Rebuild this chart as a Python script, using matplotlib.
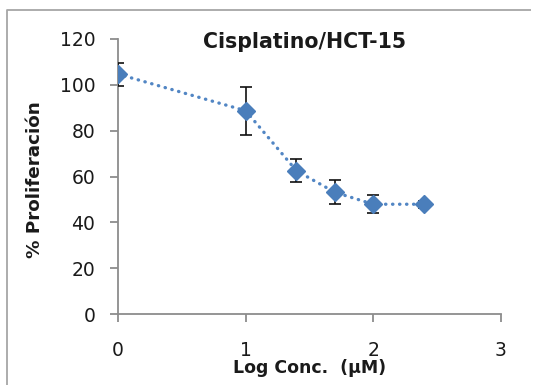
import matplotlib
matplotlib.use("Agg")
import matplotlib.pyplot as plt
from matplotlib.lines import Line2D

log_conc = [0.0, 1.0, 1.398, 1.699, 2.0, 2.398]
proliferation = [104.7, 88.7, 62.5, 53.1, 47.9, 47.9]
error = [5.0, 10.5, 5.0, 5.2, 4.0, 1.5]
x_ticks = [0, 1, 2, 3]
y_ticks = [0, 20, 40, 60, 80, 100, 120]

plt.rcParams['font.family'] = ['DejaVu Sans']

fig = plt.figure(figsize=(5.34, 3.85), dpi=100)
ax_bottom, ax_top, ax_left, ax_right = 314, 39, 118, 501
ax = fig.add_axes([ax_left/534, 1-ax_bottom/385, (ax_right-ax_left)/534, (ax_bottom-ax_top)/385])
H = ax_bottom - ax_top
W = ax_right - ax_left

blue = '#4A7EBB'
ax.plot(log_conc, proliferation, color='#5286C4', lw=2.4, linestyle=(0, (0.1, 2.0)),
        dash_capstyle='round', zorder=2)
ax.errorbar(log_conc, proliferation, yerr=error, fmt='none', ecolor='#111111',
            elinewidth=1.2, capsize=4.5, capthick=1.2, zorder=3)
ax.plot(log_conc, proliferation, linestyle='none', marker='D', markersize=9,
        color=blue, markeredgecolor=blue, zorder=4)

ax.set_xlim(0, 3)
ax.set_ylim(0, 120)
ax.set_xticks(x_ticks)
ax.set_yticks(y_ticks)
for s in ['top', 'right']:
    ax.spines[s].set_visible(False)
for s in ['left', 'bottom']:
    ax.spines[s].set_color('#8C8C8C')
    ax.spines[s].set_linewidth(1.3)
ax.tick_params(axis='both', colors='#8C8C8C', width=1.3, length=5.8, labelcolor='#1a1a1a',
               labelsize=13.5)
ax.tick_params(axis='x', pad=14)
ax.tick_params(axis='y', pad=10.5)

ax.set_title('Cisplatino/HCT-15', fontsize=14.8, fontweight='bold', pad=0,
             y=(ax_bottom-48)/H, x=(305-ax_left)/W, color='#1a1a1a')
ax.set_xlabel('Log Conc.  (µM)', fontsize=12.5, fontweight='bold', color='#1a1a1a',
              va='baseline')
ax.xaxis.set_label_coords(0.5, -(373-ax_bottom)/H)
ax.set_ylabel('% Proliferación', fontsize=13.2, fontweight='bold', color='#1a1a1a',
              va='center', ha='center')
ax.yaxis.set_label_coords((35-ax_left)/W, (ax_bottom-180)/H)

fx = 7/534
fy = 1 - 9.5/385
fig.add_artist(Line2D([fx, fx, 0.995], [0.0, fy, fy], transform=fig.transFigure,
                      color='#A6A6A6', lw=1.3, solid_capstyle='butt'))

fig.savefig('out.png', dpi=100)
